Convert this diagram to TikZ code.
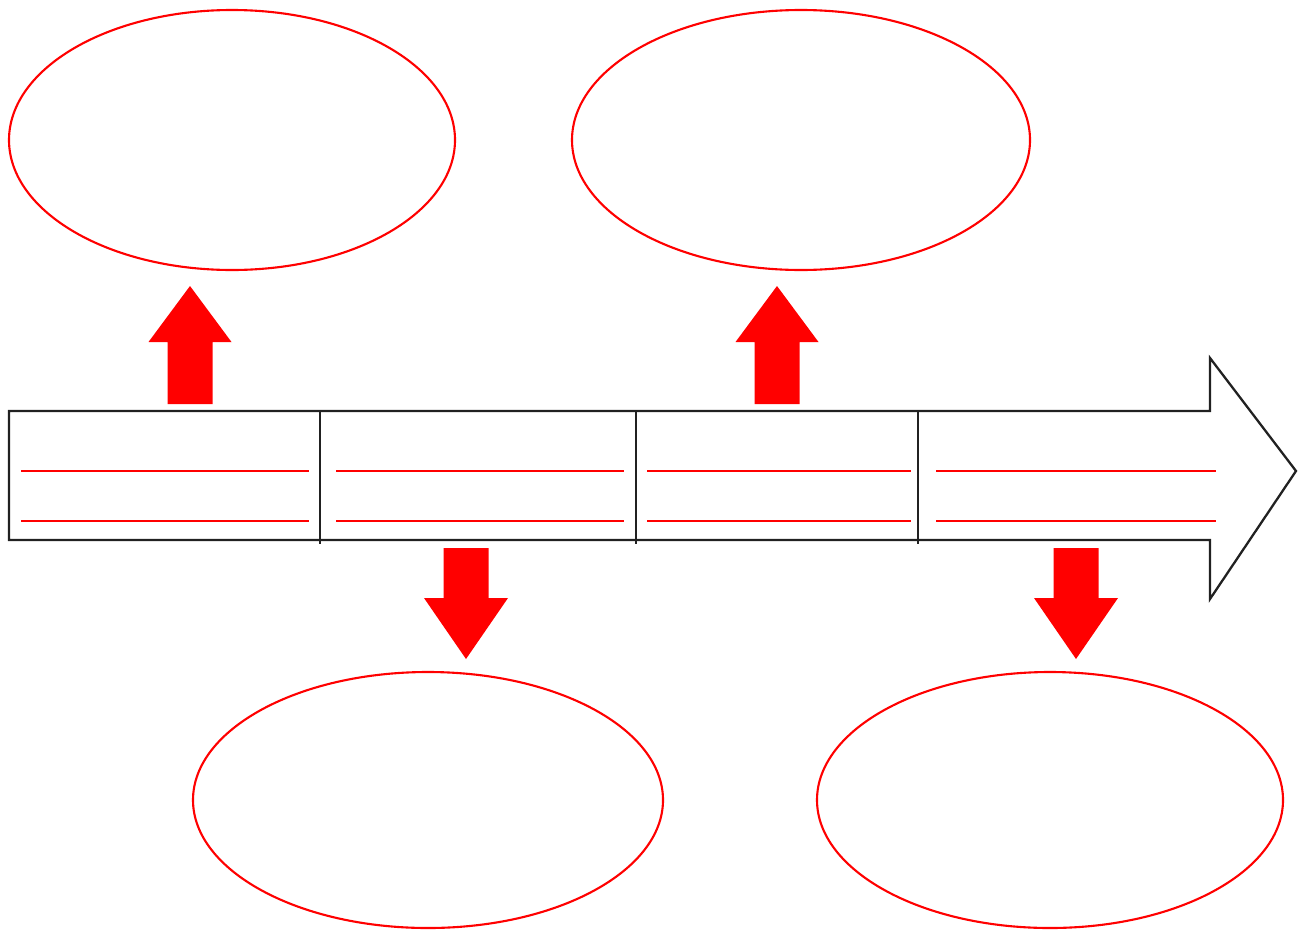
\documentclass[tikz,border=0pt]{standalone}
\usepackage{tikz}

\tikzset{
  bubble/.style={draw=red, line width=1.2pt},
  fatarrow/.style={fill=red, draw=none},
  writeline/.style={red, line width=1.2pt},
  outline/.style={draw=black!87, line width=1.3pt}
}

\begin{document}
\begin{tikzpicture}[x=0.02cm,y=-0.02cm]
\useasboundingbox (0,0) rectangle (1301,930);
% bubbles
\draw[bubble] (232,140) ellipse [x radius=223, y radius=130];
\draw[bubble] (801,140) ellipse [x radius=229, y radius=130];
\draw[bubble] (428,800) ellipse [x radius=235, y radius=128];
\draw[bubble] (1050,800) ellipse [x radius=233, y radius=128];
% timeline arrow
\draw[outline] (9,411)--(1210,411)--(1210,358)--(1296,471)--(1210,599)--(1210,540)--(9,540)--cycle;
\foreach \x in {320,636,918}
  \draw[outline] (\x,411)--(\x,544);
% writing lines
\foreach \a/\b in {21/309,336/624,647/911,936/1216} {
  \draw[writeline] (\a,471)--(\b,471);
  \draw[writeline] (\a,521)--(\b,521);
}
% arrows up
\foreach \x in {190,777}
  \fill[fatarrow] (\x-22.5,404)--(\x-22.5,342)--(\x-41.5,342)--(\x,286)--(\x+41.5,342)--(\x+22.5,342)--(\x+22.5,404)--cycle;
% arrows down
\foreach \x in {466,1076}
  \fill[fatarrow] (\x-22.5,548)--(\x-22.5,598)--(\x-42,598)--(\x,659)--(\x+42,598)--(\x+22.5,598)--(\x+22.5,548)--cycle;
\end{tikzpicture}
\end{document}
